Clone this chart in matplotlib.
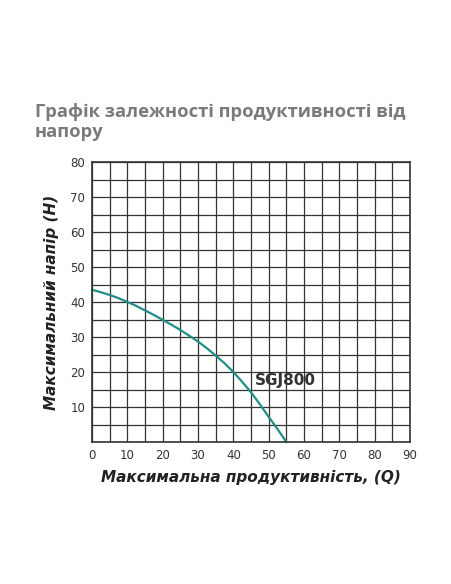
import matplotlib
matplotlib.use("Agg")
import matplotlib.pyplot as plt
import numpy as np

q = [0, 2.5, 5, 7.5, 10, 12.5, 15, 17.5, 20, 22.5, 25, 27.5, 30, 32.5, 35, 37.5, 40, 42.5, 45, 47.5, 50, 52.5, 55]
h = [43.5, 42.8, 42.0, 41.1, 40.0, 38.9, 37.6, 36.3, 34.9, 33.5, 32.0, 30.4, 28.7, 26.8, 24.7, 22.5, 20.0, 17.2, 14.2, 10.8, 7.2, 3.7, 0]

fig = plt.figure(figsize=(4.52, 5.84), dpi=100)
ax = fig.add_axes([92/452, 1-442/584, 318/452, 280/584])
ax.set_xlim(0, 90); ax.set_ylim(0, 80)
ax.set_xticks(np.arange(0, 91, 5))
ax.set_yticks(np.arange(0, 81, 5))
ax.grid(True, color='#333333', linewidth=0.9)
ax.set_xticklabels([str(v) if v % 10 == 0 else '' for v in range(0, 91, 5)], fontsize=8.5, color='#333')
ax.set_yticklabels([str(v) if v % 10 == 0 and v > 0 else '' for v in range(0, 81, 5)], fontsize=8.5, color='#333')
ax.tick_params(length=0, pad=5)
for s in ax.spines.values():
    s.set_color('#333'); s.set_linewidth(1.2)
ax.set_axisbelow(True)
ax.plot(q, h, color='#1f8f86', linewidth=1.6, clip_on=False)
ax.text(46, 17.5, 'SGJ800', fontsize=11, fontweight='bold', color='#333', ha='left', va='center',
        family=['Liberation Sans Narrow', 'DejaVu Sans'])
ax.set_xlabel('Максимальна продуктивність, (Q)', fontsize=11, fontweight='bold', fontstyle='italic', color='#222', labelpad=6)
ax.set_ylabel('Максимальний напір (H)', fontsize=11, fontweight='bold', fontstyle='italic', color='#222', labelpad=8)
fig.text(35/452, 1-122/584, 'Графік залежності продуктивності від\nнапору', fontsize=13.2, fontweight='bold', color='#7a7a7a', family='Open Sans', va='center', ha='left', linespacing=1.15)
fig.savefig('out.png', dpi=100)
